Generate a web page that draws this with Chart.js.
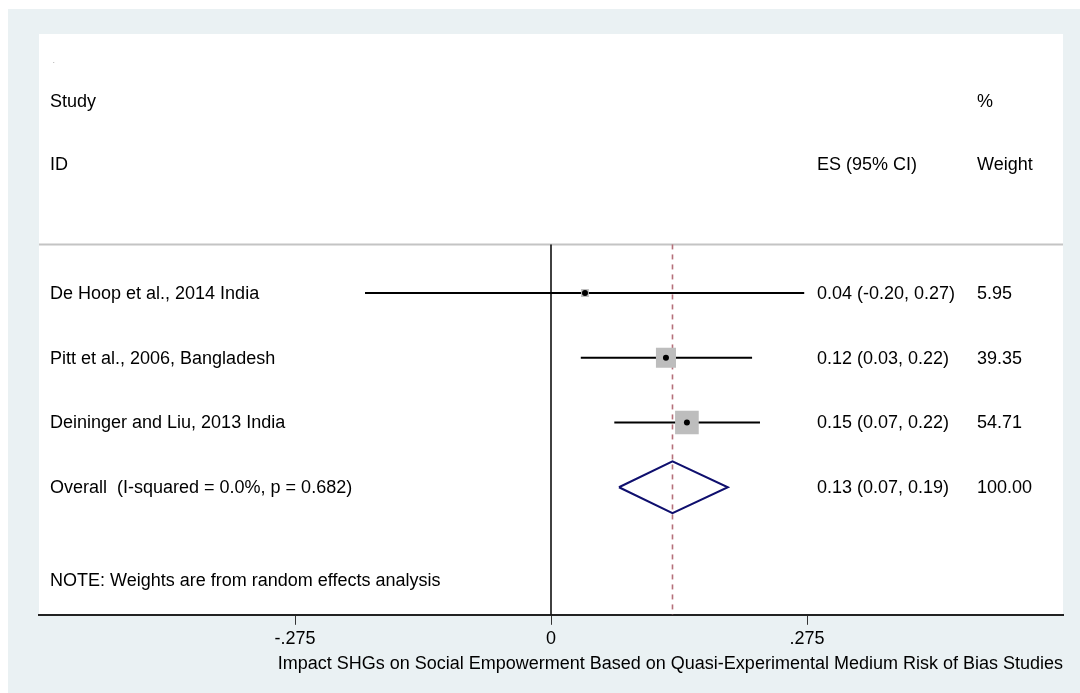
<!DOCTYPE html>
<html>
<head>
<meta charset="utf-8">
<script src="https://cdn.jsdelivr.net/npm/chart.js@4/dist/chart.umd.min.js"></script>
<style>
    html, body { margin: 0; padding: 0; background: #ffffff; }
    #forest { display: block; }
</style>
</head>
<body>
<canvas id="forest" width="1080" height="693"></canvas>
<script>
// study data
let studies = [
    "De Hoop et al., 2014 India",
    "Pitt et al., 2006, Bangladesh",
    "Deininger and Liu, 2013 India"
];
let es = [0.0365, 0.1235, 0.146];
let ciLow = [-0.1998, 0.032, 0.068];
let ciHigh = [0.272, 0.216, 0.2245];
let esText = ["0.04 (-0.20, 0.27)", "0.12 (0.03, 0.22)", "0.15 (0.07, 0.22)"];
let weights = [5.95, 39.35, 54.71];
let weightText = ["5.95", "39.35", "54.71"];

// overall (pooled) estimate
let overallLabel = "Overall  (I-squared = 0.0%, p = 0.682)";
let overallEs = 0.1305;
let overallLow = 0.073;
let overallHigh = 0.190;
let overallText = "0.13 (0.07, 0.19)";
let overallWeight = "100.00";

let noteText = "NOTE: Weights are from random effects analysis";
let xTicks = [-0.275, 0, 0.275];
let xTickLabels = ["-.275", "0", ".275"];
let xTitle = "Impact SHGs on Social Empowerment Based on Quasi-Experimental Medium Risk of Bias Studies";

const FONT = "'Liberation Sans', Arial, sans-serif";
const overallRow = studies.length + 1;
const ruleY = 0.25;

let datasets = [];

// header rule
datasets.push({
    order: 9,
    data: [{ x: -0.55, y: ruleY }, { x: 0.55, y: ruleY }],
    showLine: true, borderColor: "#c4c4c4", borderWidth: 2, pointRadius: 0
});
// null line
datasets.push({
    order: 8,
    data: [{ x: 0, y: ruleY }, { x: 0, y: 6 }],
    showLine: true, borderColor: "#111111", borderWidth: 1.6, pointRadius: 0
});
// overall effect line
datasets.push({
    order: 7,
    data: [{ x: overallEs, y: ruleY }, { x: overallEs, y: 6 }],
    showLine: true, borderColor: "#b5707a", borderWidth: 1.6,
    borderDash: [5, 5], pointRadius: 0
});

for (let i = 0; i < studies.length; i++) {
    datasets.push({
        order: 5,
        data: [{ x: ciLow[i], y: i + 1 }, { x: ciHigh[i], y: i + 1 }],
        showLine: true, borderColor: "#000000", borderWidth: 2, pointRadius: 0
    });
}

// diamond
datasets.push({
    order: 4,
    data: [
        { x: overallLow, y: overallRow },
        { x: overallEs, y: overallRow - 0.4 },
        { x: overallHigh, y: overallRow },
        { x: overallEs, y: overallRow + 0.4 },
        { x: overallLow, y: overallRow }
    ],
    showLine: true, borderColor: "#0f0f6e", borderWidth: 2, pointRadius: 0
});
// weight boxes
datasets.push({
    order: 2,
    data: es.map((v, i) => ({ x: v, y: i + 1 })),
    pointStyle: "rect",
    pointRadius: (ctx) => 3.2 * Math.sqrt(weights[ctx.dataIndex]) / Math.SQRT2,
    backgroundColor: "#bdbdbd",
    borderColor: "#bdbdbd",
    borderWidth: 0
});
// point estimates
datasets.push({
    order: 1,
    data: es.map((v, i) => ({ x: v, y: i + 1 })),
    pointStyle: "circle", pointRadius: 3,
    backgroundColor: "#000000", borderColor: "#000000", borderWidth: 0
});

const textColumns = {
    id: "textColumns",
    beforeDraw(chart) {
        let c = chart.ctx;
        let a = chart.chartArea;
        c.save();
        c.fillStyle = "#ffffff";
        c.fillRect(0, 0, chart.width, chart.height);
        c.fillStyle = "#eaf1f3";
        c.fillRect(8, 9, chart.width - 8, chart.height - 9);
        c.fillStyle = "#ffffff";
        c.fillRect(a.left, a.top, a.right - a.left, a.bottom - a.top);
        c.restore();
    },
    afterDatasetsDraw(chart) {
        let c = chart.ctx;
        let ys = chart.scales.y;
        let colId = 50, colEs = 817, colW = 977;
        let py = (v) => ys.getPixelForValue(v) + 1;
        c.save();
        c.fillStyle = "#000000";
        c.textBaseline = "middle";
        c.textAlign = "left";
        c.font = "6px " + FONT;
        c.fillText(".", 53, py(-2.6));
        c.font = "18px " + FONT;
        c.fillText("Study", colId, py(-1.96));
        c.fillText("%", colW, py(-1.96));
        c.fillText("ID", colId, py(-0.99));
        c.fillText("ES (95% CI)", colEs, py(-0.99));
        c.fillText("Weight", colW, py(-0.99));
        for (let i = 0; i < studies.length; i++) {
            c.fillText(studies[i], colId, py(i + 1));
            c.fillText(esText[i], colEs, py(i + 1));
            c.fillText(weightText[i], colW, py(i + 1));
        }
        c.fillText(overallLabel, colId, py(overallRow));
        c.fillText(overallText, colEs, py(overallRow));
        c.fillText(overallWeight, colW, py(overallRow));
        c.fillText(noteText, colId, py(5.44));
        c.restore();
    }
};

new Chart(document.getElementById("forest"), {
    type: "scatter",
    data: { datasets: datasets },
    plugins: [textColumns],
    options: {
        responsive: false,
        animation: false,
        devicePixelRatio: 1,
        layout: { padding: { left: 39, right: 17, top: 34, bottom: 14 } },
        plugins: {
            legend: { display: false },
            tooltip: { enabled: false }
        },
        scales: {
            x: {
                type: "linear",
                min: -0.55,
                max: 0.55,
                afterBuildTicks: (axis) => {
                    axis.ticks = xTicks.map((v) => ({ value: v }));
                },
                ticks: {
                    autoSkip: false,
                    maxRotation: 0,
                    padding: 3,
                    color: "#000000",
                    font: { family: FONT, size: 18 },
                    callback: (v) => xTickLabels[xTicks.indexOf(v)]
                },
                grid: {
                    drawOnChartArea: false,
                    drawTicks: true,
                    tickLength: 10,
                    color: "#333333"
                },
                border: { display: true, color: "#222222", width: 2 },
                title: {
                    display: true,
                    text: xTitle,
                    align: "end",
                    color: "#000000",
                    font: { family: FONT, size: 18 },
                    padding: { top: 1, bottom: 4 }
                }
            },
            y: {
                type: "linear",
                reverse: true,
                min: -3,
                max: 5.97,
                display: false
            }
        }
    }
});
</script>
</body>
</html>
